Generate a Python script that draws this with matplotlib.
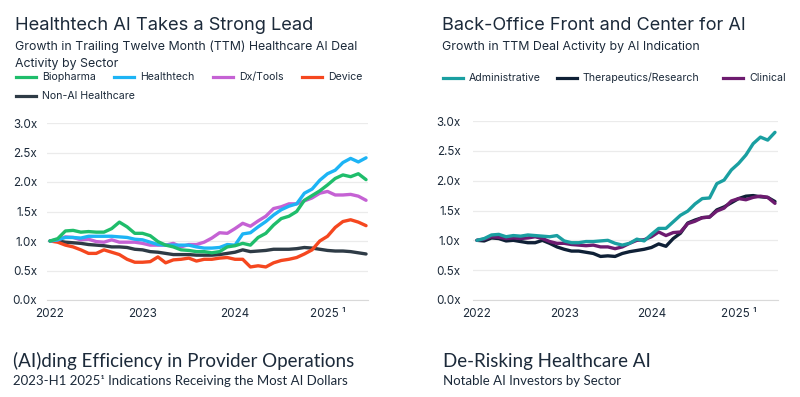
import matplotlib
matplotlib.use("Agg")
import matplotlib.pyplot as plt
from matplotlib.lines import Line2D
import numpy as np

plt.rcParams['font.family'] = ['Inter', 'DejaVu Sans']

# monthly points, Jan 2022 .. Jun 2025
months = 2022 + np.arange(42) / 12.0

# --- left chart: growth by sector ---
biopharma = [1.00, 1.04, 1.17, 1.18, 1.15, 1.16, 1.15, 1.15, 1.21, 1.32, 1.24, 1.13,
             1.13, 1.09, 0.99, 0.93, 0.90, 0.85, 0.84, 0.82, 0.82, 0.80, 0.82, 0.90,
             0.92, 0.96, 0.93, 1.06, 1.13, 1.27, 1.38, 1.42, 1.50, 1.69, 1.77, 1.85,
             1.95, 2.06, 2.12, 2.09, 2.14, 2.04]
healthtech = [1.00, 1.02, 1.06, 1.06, 1.05, 1.08, 1.08, 1.08, 1.08, 1.07, 1.06, 1.03,
              1.02, 0.98, 0.94, 0.93, 0.93, 0.93, 0.93, 0.90, 0.88, 0.88, 0.89, 0.94,
              0.93, 1.12, 1.14, 1.24, 1.33, 1.44, 1.53, 1.59, 1.63, 1.81, 1.88, 2.03,
              2.14, 2.20, 2.33, 2.40, 2.34, 2.41]
dx_tools = [1.00, 1.02, 1.07, 1.06, 1.02, 1.03, 0.99, 0.98, 1.02, 0.98, 0.98, 0.98,
            0.96, 0.93, 0.93, 0.93, 0.96, 0.90, 0.94, 0.94, 0.98, 1.05, 1.14, 1.13,
            1.21, 1.30, 1.25, 1.34, 1.42, 1.55, 1.58, 1.63, 1.63, 1.68, 1.73, 1.81,
            1.84, 1.78, 1.78, 1.79, 1.76, 1.69]
device = [1.00, 0.98, 0.93, 0.90, 0.85, 0.79, 0.79, 0.85, 0.81, 0.77, 0.69, 0.64,
          0.64, 0.65, 0.73, 0.63, 0.68, 0.69, 0.71, 0.66, 0.69, 0.69, 0.71, 0.72,
          0.69, 0.69, 0.56, 0.58, 0.56, 0.63, 0.67, 0.69, 0.72, 0.78, 0.85, 1.00,
          1.08, 1.23, 1.33, 1.36, 1.32, 1.26]
non_ai = [1.00, 1.00, 0.98, 0.97, 0.96, 0.94, 0.93, 0.92, 0.90, 0.90, 0.89, 0.86,
          0.85, 0.82, 0.81, 0.79, 0.77, 0.77, 0.77, 0.76, 0.76, 0.76, 0.77, 0.79,
          0.81, 0.85, 0.82, 0.83, 0.84, 0.86, 0.86, 0.86, 0.87, 0.89, 0.88, 0.86,
          0.84, 0.83, 0.83, 0.82, 0.80, 0.78]

# --- right chart: growth by AI indication ---
administrative = [1.00, 1.03, 1.09, 1.10, 1.06, 1.08, 1.07, 1.09, 1.08, 1.07, 1.06, 1.08,
                  0.99, 0.96, 0.96, 0.98, 0.98, 0.99, 1.00, 0.95, 0.92, 0.95, 1.02, 0.99,
                  1.10, 1.20, 1.20, 1.31, 1.42, 1.49, 1.61, 1.70, 1.71, 1.95, 2.01, 2.18,
                  2.29, 2.43, 2.62, 2.73, 2.68, 2.81]
therapeutics = [1.00, 0.99, 1.04, 1.03, 0.99, 1.00, 0.98, 0.96, 0.96, 1.00, 0.95, 0.89,
                0.85, 0.82, 0.82, 0.80, 0.78, 0.73, 0.74, 0.73, 0.78, 0.81, 0.83, 0.85,
                0.88, 0.94, 0.90, 1.03, 1.12, 1.29, 1.34, 1.38, 1.39, 1.51, 1.56, 1.63,
                1.70, 1.74, 1.75, 1.73, 1.72, 1.65]
clinical = [1.00, 1.02, 1.06, 1.05, 1.03, 1.04, 1.03, 1.04, 1.06, 1.03, 0.98, 0.95,
            0.95, 0.93, 0.92, 0.91, 0.92, 0.89, 0.89, 0.86, 0.89, 0.95, 1.00, 1.01,
            1.06, 1.14, 1.08, 1.13, 1.14, 1.28, 1.32, 1.38, 1.39, 1.49, 1.54, 1.66,
            1.70, 1.68, 1.72, 1.74, 1.72, 1.62]

left_names = ["Biopharma", "Healthtech", "Dx/Tools", "Device", "Non-AI Healthcare"]
left_colors = ["#1fbd6b", "#1db4f5", "#c562d4", "#f5471f", "#2e3b46"]
right_names = ["Administrative", "Therapeutics/Research", "Clinical"]
right_colors = ["#1a9fa1", "#0f2036", "#6d1b6f"]

year_ticks = [2022, 2023, 2024, 2025]
year_labels = ["2022", "2023", "2024", "2025 \u00b9"]
y_ticks = [0.0, 0.5, 1.0, 1.5, 2.0, 2.5, 3.0]

TXT = "#1c2a3a"
W, H = 800, 397
fig = plt.figure(figsize=(8, 3.97), dpi=100)


def px(x, y):
    return x / W, 1 - y / H


def style_axes(ax, xlim, pad):
    ax.set_xlim(*xlim)
    ax.set_ylim(0, 3.0)
    ax.set_yticks(y_ticks)
    ax.set_yticklabels([f"{t:.1f}x" for t in y_ticks])
    ax.set_xticks(year_ticks)
    ax.set_xticklabels(year_labels)
    ax.tick_params(length=0, labelsize=8.4, colors=TXT)
    ax.tick_params(axis="y", pad=pad)
    ax.tick_params(axis="x", pad=6)
    ax.grid(axis="y", color="#ebebeb", lw=0.9)
    ax.set_axisbelow(True)
    for s in ["top", "right", "left"]:
        ax.spines[s].set_visible(False)
    ax.spines["bottom"].set_color("#d9d9d9")


# left axes
l0, b0 = px(47, 300)
l1, t1 = px(368, 123)
ax1 = fig.add_axes([l0, b0, l1 - l0, t1 - b0])
for vals, c in zip([non_ai, device, dx_tools, healthtech, biopharma],
                   [left_colors[4], left_colors[3], left_colors[2], left_colors[1], left_colors[0]]):
    ax1.plot(months, vals, color=c, lw=2.4, solid_capstyle="round")
style_axes(ax1, (2022 - 3 / 92.5, 2022 + 318 / 92.5), 7)

# right axes
l0, b0 = px(473, 300)
l1, t1 = px(778, 121)
ax2 = fig.add_axes([l0, b0, l1 - l0, t1 - b0])
for vals, c in zip([therapeutics, clinical, administrative],
                   [right_colors[1], right_colors[2], right_colors[0]]):
    ax2.plot(months, vals, color=c, lw=2.4, solid_capstyle="round")
style_axes(ax2, (2022 - 4 / 87.5, 2022 + 302 / 87.5), 9)

# titles
fig.text(*px(15, 26), "Healthtech AI Takes a Strong Lead", fontsize=13.2, color=TXT, va="center")
fig.text(*px(15, 47), "Growth in Trailing Twelve Month (TTM) Healthcare AI Deal", fontsize=8.9,
         color=TXT, va="center")
fig.text(*px(15, 64), "Activity by Sector", fontsize=8.9, color=TXT, va="center")
fig.text(*px(442, 26), "Back-Office Front and Center for AI", fontsize=13, color=TXT, va="center")
fig.text(*px(442, 47), "Growth in TTM Deal Activity by AI Indication", fontsize=8.9, color=TXT,
         va="center")


def legend_item(x, y, name, color):
    x0, yy = px(x, y)
    x1, _ = px(x + 20, y)
    fig.add_artist(Line2D([x0, x1], [yy, yy], color=color, lw=2.3, transform=fig.transFigure))
    fig.text(*px(x + 26, y), name, fontsize=7.6, color=TXT, va="center")


left_pos = [(16, 77), (114, 77), (213, 77), (302, 77), (16, 96)]
for (x, y), n, c in zip(left_pos, left_names, left_colors):
    legend_item(x, y, n, c)
right_pos = [(443, 78), (557, 78), (723, 78)]
for (x, y), n, c in zip(right_pos, right_names, right_colors):
    legend_item(x, y, n, c)

# next section headings at the bottom
narrow = ['Lato', 'DejaVu Sans']
fig.text(*px(13, 361), "(AI)ding Efficiency in Provider Operations", fontsize=13.5, color=TXT,
         va="center", family=narrow)
fig.text(*px(13, 381), "2023-H1 2025\u00b9 Indications Receiving the Most AI Dollars", fontsize=9.5,
         color=TXT, va="center", family=narrow)
fig.text(*px(443, 361), "De-Risking Healthcare AI", fontsize=13.5, color=TXT, va="center",
         family=narrow)
fig.text(*px(443, 381), "Notable AI Investors by Sector", fontsize=9.5, color=TXT, va="center",
         family=narrow)

fig.savefig("out.png", dpi=100, facecolor="white")
